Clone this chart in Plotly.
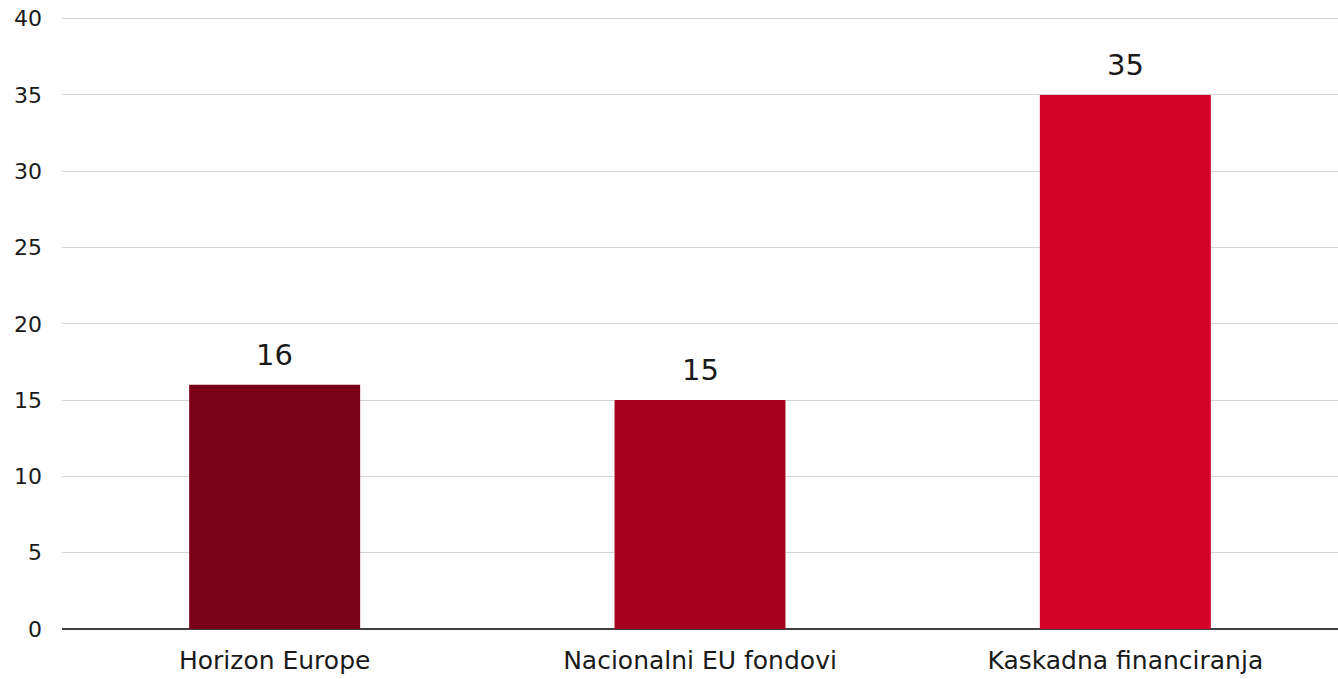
import plotly.graph_objects as go

categories = ["Horizon Europe", "Nacionalni EU fondovi", "Kaskadna financiranja"]
values = [16, 15, 35]
colors = ["#7a0017", "#a6001f", "#d50027"]
y_ticks = [0, 5, 10, 15, 20, 25, 30, 35, 40]

font_family = "DejaVu Sans"

fig = go.Figure()
fig.add_trace(go.Bar(
    x=categories, y=values, marker=dict(color=colors, line=dict(width=0)),
    showlegend=False, hoverinfo="skip",
))
for c, v in zip(categories, values):
    fig.add_annotation(x=c, y=v, text=str(v), showarrow=False, yanchor="bottom",
                       yshift=11, font=dict(family=font_family, size=29, color="#1a1a1a"))

fig.update_layout(
    width=1338, height=679,
    margin=dict(l=62, r=0, t=11, b=50, autoexpand=False),
    paper_bgcolor="white", plot_bgcolor="white",
    bargap=0.598,
    font=dict(family=font_family, color="#1a1a1a"),
    xaxis=dict(showgrid=False, showline=False, ticks="", tickfont=dict(size=25),
               ticklabelstandoff=14),
    yaxis=dict(range=[0, 40.5], tickvals=y_ticks, showgrid=True, gridcolor="#d4d4d4",
               gridwidth=1, zeroline=True, zerolinecolor="#404040", zerolinewidth=1.5,
               showline=False, tickfont=dict(size=22), ticklabelstandoff=19,
               ticklabeloverflow="allow"),
)
fig.write_html("out.html", config={"displayModeBar": False},
               post_script="document.body.style.margin='0px';document.body.style.overflow='hidden';")
